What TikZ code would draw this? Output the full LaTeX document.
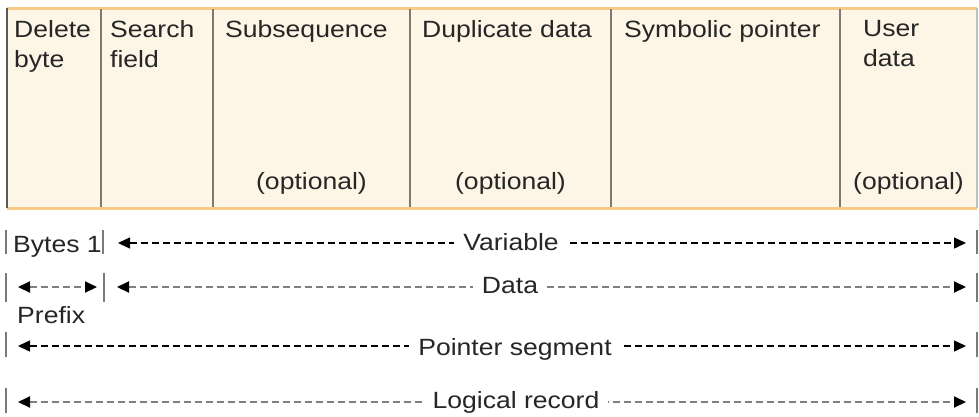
\documentclass[tikz,border=0pt]{standalone}
\usepackage{fontspec}
\setmainfont{Liberation Sans}[FakeStretch=1.13]
\usetikzlibrary{arrows.meta}
\definecolor{cellfill}{HTML}{FDF5E5}
\definecolor{rimorange}{HTML}{F9C988}
\definecolor{rulegray}{HTML}{7D7A74}
\tikzset{
  fieldtxt/.style={anchor=north west, inner sep=0pt, align=left},
  opttxt/.style={anchor=base, inner sep=0pt},
  extent/.style={dash pattern=on 7pt off 4pt, line width=1.4pt,
    {Triangle[length=12pt,width=11pt,color=black]}-{Triangle[length=12pt,width=11pt,color=black]}},
  extentlight/.style={extent, black!50, line width=2pt},
  extentlbl/.style={fill=white, inner xsep=9pt, inner ysep=2pt, anchor=base},
  bar/.style={rulegray, line width=1.6pt}
}
\begin{document}
\begin{tikzpicture}[x=1pt,y=-1pt, every node/.style={font=\fontsize{23.5}{30}\selectfont, text=black!85}]
\useasboundingbox (0,0) rectangle (979,416);
% record layout
\fill[cellfill] (7,8) rectangle (977,208);
\draw[rimorange, line width=3pt] (7,8) -- (977,8) (7,208) -- (977,208);
\draw[black!65, line width=2pt] (7,8) -- (7,208);
\draw[black!25, line width=1.5pt] (977,8) -- (977,208);
\foreach \x in {101,213,410,611,840}
  \draw[rulegray, line width=2pt] (\x,9) -- (\x,207);

\node[fieldtxt] (del) at (14,20) {Delete\\byte};
\node[fieldtxt] (srch) at (110,20) {Search\\field};
\node[fieldtxt] (subseq) at (225,20) {Subsequence};
\node[fieldtxt] (dup) at (422,20) {Duplicate data};
\node[fieldtxt] (sym) at (624,20) {Symbolic pointer};
\node[fieldtxt] (usr) at (863,20) {User\\data};
\node[opttxt] (opt1) at (311.5,189) {(optional)};
\node[opttxt] (opt2) at (510.5,189) {(optional)};
\node[opttxt] (opt3) at (908.5,189) {(optional)};

% lengths
\foreach \yt/\yb in {230/254,273/302,332/357,388/413} {
  \draw[bar] (6,\yt) -- (6,\yb);
  \draw[bar] (977,\yt) -- (977,\yb);
}
\draw[bar] (103,230) -- (103,254);
\draw[bar] (104,273) -- (104,302);

\node[anchor=base west, inner sep=0pt] (bytes) at (13,252) {Bytes 1};
\coordinate (var-l) at (118,243);
\coordinate (var-r) at (966,243);
\draw[extent] (var-l) -- (var-r);
\node[extentlbl] (var) at (511,250) {Variable};

\coordinate (pre-l) at (18,287);
\coordinate (pre-r) at (97,287);
\draw[extentlight] (pre-l) -- (pre-r);
\node[anchor=base west, inner sep=0pt] (prefix) at (17,323) {Prefix};
\coordinate (dat-l) at (117,287);
\coordinate (dat-r) at (966,287);
\draw[extentlight] (dat-l) -- (dat-r);
\node[extentlbl] (dat) at (510,293) {Data};

\coordinate (seg-l) at (18,346);
\coordinate (seg-r) at (966,346);
\draw[extent] (seg-l) -- (seg-r);
\node[extentlbl] (seg) at (515,355) {Pointer segment};

\coordinate (rec-l) at (18,402);
\coordinate (rec-r) at (966,402);
\draw[extentlight] (rec-l) -- (rec-r);
\node[extentlbl] (rec) at (516,408) {Logical record};
\end{tikzpicture}
\end{document}
